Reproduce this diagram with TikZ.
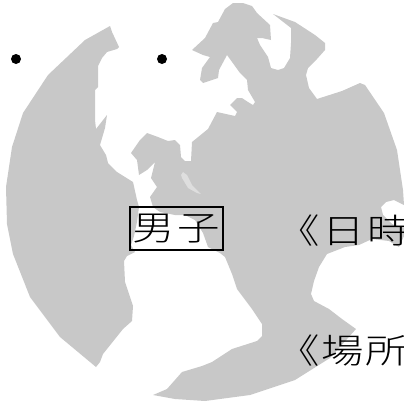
\documentclass[tikz,border=0pt]{standalone}
\usepackage{fontspec}
\newfontfamily\cjk[FakeStretch=1.25]{Noto Sans CJK JP Light}
\tikzset{
  land/.style={fill=landgray,draw=none},
  lake/.style={fill=lakegray,draw=none},
  dot/.style={circle,fill=black,inner sep=0pt,minimum size=10pt},
  label/.style={font=\cjk\fontsize{34}{34}\selectfont,inner sep=0pt,anchor=base west},
  framed/.style={draw=black,line width=2pt,font=\cjk\fontsize{34}{34}\selectfont,inner sep=0pt,minimum width=93pt,minimum height=43pt}
}
\definecolor{landgray}{HTML}{C8C8C8}
\definecolor{lakegray}{HTML}{DEDEDE}
\begin{document}
\begin{tikzpicture}[x=1pt,y=-1pt]
\useasboundingbox (0,0) rectangle (404,407);
% western mass
\path[land] (110,26) -- (112,32) -- (119,47) -- (117,49) -- (107,52) -- (102,58) -- (98,66) -- (98,87) -- (95,90) -- (95,120) -- (96,129) -- (107,115) -- (105,128) -- (100,145) -- (106,155) -- (108,163) -- (117,172) -- (133,182) -- (137,200) -- (139,207) -- (137,222) -- (134,236) -- (131,245) -- (135,252) -- (127,256) -- (124,261) -- (125,282) -- (133,306) -- (132,321) -- (123,329) -- (103,354) -- (100,362) -- (96,367) -- (60,337) -- (30,297) -- (13,254) -- (7,224) -- (6,187) -- (12,147) -- (23,113) -- (48,75) -- (85,40) -- cycle;
% eastern mass
\path[land] (192,50) -- (205,38) -- (213,23) -- (218,22) -- (225,9) -- (233,3) -- (243,3) -- (252,6) -- (257,13) -- (270,25) -- (271,40) -- (262,38) -- (257,38) -- (260,45) -- (268,57) -- (271,68) -- (278,70) -- (284,68) -- (290,58) -- (291,43) -- (291,28) -- (273,14) -- (295,22) -- (315,35) -- (325,43) -- (325,50) -- (317,59) -- (308,68) -- (306,75) -- (309,88) -- (317,99) -- (342,91) -- (360,83) -- (365,85) -- (384,113) -- (397,150) -- (403,190) -- (404,205) -- (394,200) -- (386,202) -- (381,207) -- (383,215) -- (392,224) -- (404,228) -- (404,236) -- (399,247) -- (389,241) -- (372,239) -- (359,245) -- (345,247) -- (327,254) -- (319,267) -- (314,281) -- (311,294) -- (314,301) -- (329,309) -- (342,319) -- (356,329) -- (330,358) -- (295,380) -- (250,395) -- (205,401) -- (175,399) -- (153,395) -- (167,389) -- (182,372) -- (202,366) -- (212,362) -- (232,349) -- (257,341) -- (262,336) -- (262,324) -- (252,309) -- (237,289) -- (232,274) -- (225,257) -- (220,253) -- (208,247) -- (203,233) -- (195,220) -- (185,215) -- (175,215) -- (160,212) -- (153,207) -- (150,197) -- (157,187) -- (151,178) -- (155,162) -- (147,170) -- (139,175) -- (137,160) -- (131,153) -- (140,140) -- (147,133) -- (158,137) -- (168,141) -- (175,140) -- (180,145) -- (181,157) -- (185,161) -- (191,161) -- (192,142) -- (208,129) -- (217,112) -- (235,116) -- (237,112) -- (230,105) -- (237,98) -- (242,98) -- (248,102) -- (253,105) -- (255,102) -- (248,90) -- (247,80) -- (240,73) -- (227,55) -- (219,70) -- (218,78) -- (203,83) -- (200,80) -- (202,68) -- (210,57) -- (203,55) -- cycle;
% inland sea
\path[lake] (181,175) -- (183,172) -- (187,175) -- (192,185) -- (201,194) -- (197,193) -- (188,188) -- (182,178) -- cycle;
\node[dot] (dotA) at (16,59) {};
\node[dot] (dotB) at (162,59) {};
\node[framed] (boys) at (176,228.5) {男\hspace{2.5pt}子};
\node[label] (when) at (277,243) {《\hspace{2.5pt}日\hspace{2.5pt}時};
\node[label] (where) at (277,363) {《\hspace{1.5pt}場\hspace{1.5pt}所};
\end{tikzpicture}
\end{document}
